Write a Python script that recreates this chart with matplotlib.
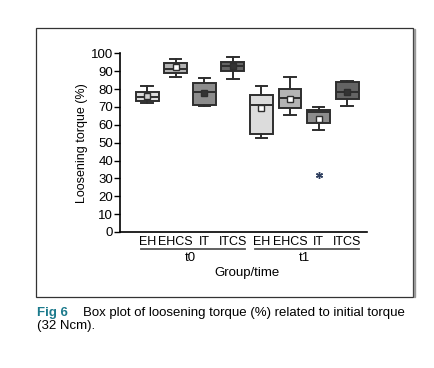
import matplotlib
matplotlib.use("Agg")
import matplotlib.pyplot as plt
from matplotlib.patches import Rectangle

plt.rcParams['font.family'] = ['Liberation Sans', 'DejaVu Sans']

groups = ["EH", "EHCS", "IT", "ITCS"]
times = ["t0", "t1"]

# box stats (t0 then t1)
whislo = [72.1, 87.0, 70.6, 85.5, 52.5, 65.5, 56.8, 70.6]
q1 = [73.2, 89.2, 71.1, 90.1, 54.7, 69.3, 60.9, 74.3]
med = [75.8, 91.1, 78.2, 92.9, 71.1, 75.2, 67.4, 78.6]
q3 = [78.6, 94.4, 83.2, 95.0, 76.7, 79.9, 68.3, 84.2]
whishi = [81.8, 96.8, 86.0, 98.1, 81.8, 87.0, 69.8, 84.7]
means = [76.2, 92.5, 78.0, 92.9, 69.3, 74.3, 63.1, 78.6]
fliers = [[], [], [], [], [], [], [31.7], []]

box_colors = ["#dcdcdc", "#b4b4b4", "#8c8c8c", "#646464"]
mean_colors = ["#cfcfcf", "#ffffff", "#333333", "#333333",
               "#ffffff", "#ffffff", "#ffffff", "#333333"]
edge = "#2e2e2e"

stats = []
for i in range(8):
    stats.append(dict(whislo=whislo[i], q1=q1[i], med=med[i], q3=q3[i],
                      whishi=whishi[i], mean=means[i], fliers=fliers[i]))

fig = plt.figure(figsize=(4.35, 3.68), dpi=100)
fig.patches.append(Rectangle((36/435, 1-297/368), 377/435, 269/368,
                             transform=fig.transFigure, fill=False,
                             edgecolor="#333333", linewidth=0.9))
fig.patches.append(Rectangle((414/435, 1-297/368), 1.2/435, 268/368,
                             transform=fig.transFigure, color="#999999"))

ax = fig.add_axes([0.276, 0.3696, 0.568, 0.4856])
pos = list(range(1, 9))
bp = ax.bxp(stats, positions=pos, widths=0.8, capwidths=0.4,
            showmeans=True, patch_artist=True,
            boxprops=dict(edgecolor=edge, linewidth=1.4),
            medianprops=dict(color=edge, linewidth=1.4),
            whiskerprops=dict(color=edge, linewidth=1.4),
            capprops=dict(color=edge, linewidth=1.4),
            flierprops=dict(marker=(6, 2, 0), markersize=5,
                            markeredgecolor="#2f3f5f", markeredgewidth=1.0),
            meanprops=dict(marker="s", markersize=4,
                           markeredgecolor=edge, markeredgewidth=1.0))
for i, b in enumerate(bp['boxes']):
    b.set_facecolor(box_colors[i % 4])
for i, m in enumerate(bp['means']):
    m.set_markerfacecolor(mean_colors[i])

ax.set_xlim(0.05, 8.7)
ax.set_ylim(0, 100)
ax.set_yticks(range(0, 101, 10))
ax.tick_params(axis='y', labelsize=9.5, length=4, width=1, pad=1)
ax.set_xticks(pos, groups * 2)
ax.tick_params(axis='x', length=0, labelsize=9, pad=3)
ax.spines['top'].set_visible(False)
ax.spines['right'].set_visible(False)
ax.spines['left'].set_linewidth(1.2)
ax.spines['bottom'].set_linewidth(1.2)
ax.set_ylabel("Loosening torque (%)", fontsize=9, labelpad=2)

tr = ax.get_xaxis_transform()
for k, t in enumerate(times):
    a = pos[4*k] - 0.22
    b = pos[4*k + 3] + 0.43
    ax.plot([a, b], [-0.095, -0.095], transform=tr, color="#555555",
            linewidth=1.3, clip_on=False)
    ax.text((pos[4*k] + pos[4*k + 3]) / 2, -0.145, t, transform=tr,
            ha='center', va='center', fontsize=9.5)
ax.text(4.5, -0.228, "Group/time", transform=tr, ha='center', va='center',
        fontsize=9.5)

fig.text(37/435, 1-313/368, "Fig 6", color="#1c7a8c", fontweight='bold',
         fontsize=9.5, va='center')
fig.text(82.7/435, 1-313/368,
         "Box plot of loosening torque (%) related to initial torque",
         fontsize=9.5, va='center')
fig.text(37/435, 1-326/368, "(32 Ncm).", fontsize=9.5, va='center')

fig.savefig("out.png", dpi=100)
